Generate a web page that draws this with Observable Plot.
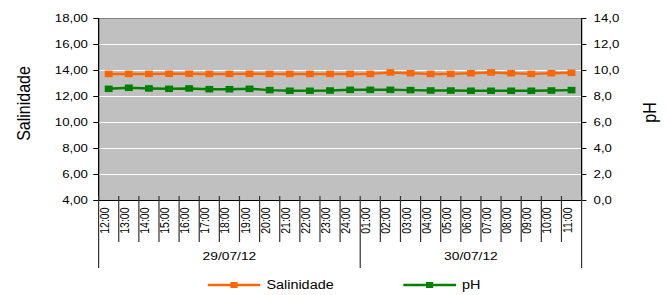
<!DOCTYPE html>
<html><head><meta charset="utf-8">
<script src="https://cdn.jsdelivr.net/npm/d3@7"></script>
<script src="https://cdn.jsdelivr.net/npm/@observablehq/plot@0.6"></script>
<style>
body{margin:0;background:#fff;font-family:"Liberation Sans",Arial,sans-serif;color:#000;}
#wrap{width:556px;transform:scale(1.2,1);transform-origin:0 0;}
#legend{display:flex;align-items:center;height:18px;padding-left:173px;font-size:12px;}
#legend .item{display:flex;align-items:center;}
#legend .item + .item{margin-left:58px;}
#legend .item span{margin-left:5px;}
svg{display:block;}
</style></head><body><div id="wrap"></div>
<script>
const hours = ["12:00","13:00","14:00","15:00","16:00","17:00","18:00","19:00","20:00","21:00","22:00","23:00","24:00",
               "01:00","02:00","03:00","04:00","05:00","06:00","07:00","08:00","09:00","10:00","11:00"];
const days = ["29/07/12","30/07/12"];
const hoursPerDay = [13, 11];
const salinidade = [13.74,13.74,13.74,13.75,13.75,13.74,13.74,13.75,13.74,13.74,13.74,13.74,13.74,
                    13.74,13.85,13.79,13.74,13.74,13.79,13.85,13.79,13.74,13.79,13.82];
const pH = [8.59,8.67,8.62,8.59,8.62,8.56,8.56,8.59,8.49,8.44,8.44,8.46,8.51,
            8.51,8.51,8.49,8.46,8.46,8.44,8.44,8.44,8.44,8.46,8.49];
const seriesNames = ["Salinidade","pH"];
const seriesColors = ["#ff6600","#008000"];
const leftTicks = [4,6,8,10,12,14,16,18];
const rightTicks = [0,2,4,6,8,10,12,14];

const S = 1.2; // horizontal stretch of the original
const W = 667 / S, H = 276;
const mL = 98 / S, mR = 86 / S, mT = 18, mB = 76;
const plotH = H - mT - mB;

// pH axis (0..14) shares the pixel range of the salinity axis (4..18)
const offset = leftTicks[0] - rightTicks[0];
const rows = hours.map((h, i) => ({i, h, s: salinidade[i], p: pH[i] + offset}));

const starts = d3.cumsum([0, ...hoursPerDay]).slice(0, -1);
const dayRows = days.map((d, k) => ({d, c: starts[k] + (hoursPerDay[k] - 1) / 2}));
const groupBounds = d3.cumsum([0, ...hoursPerDay]).map(v => v - 0.5);
const innerBounds = d3.range(1, hours.length).map(v => v - 0.5).filter(v => !groupBounds.includes(v));

const fmtL = d => d.toFixed(2).replace(".", ",");
const fmtR = d => (d - offset).toFixed(1).replace(".", ",");

const chart = Plot.plot({
  width: W, height: H,
  marginLeft: mL, marginRight: mR, marginTop: mT, marginBottom: mB,
  style: {fontFamily: "Liberation Sans, Arial, sans-serif", color: "#000", background: "transparent"},
  x: {type: "linear", domain: [-0.5, hours.length - 0.5], axis: null},
  y: {domain: [leftTicks[0], leftTicks[leftTicks.length - 1]], axis: null},
  marks: [
    Plot.frame({fill: "#c0c0c0", stroke: "#808080"}),
    Plot.ruleY(leftTicks.slice(1, -1), {stroke: "white", strokeWidth: 1}),
    Plot.ruleX([-0.5, hours.length - 0.5], {stroke: "black"}),
    Plot.ruleY([leftTicks[0]], {stroke: "black"}),
    Plot.ruleX(innerBounds, {x: d => d, stroke: "#333", insetTop: plotH - 4, insetBottom: -42}),
    Plot.ruleX(groupBounds, {x: d => d, stroke: "#333", insetTop: plotH - 4, insetBottom: -68}),
    Plot.axisY({anchor: "left", ticks: leftTicks, tickFormat: fmtL, tickSize: 4, tickPadding: 5, fontSize: 11, label: null}),
    Plot.axisY({anchor: "right", ticks: leftTicks, tickFormat: fmtR, tickSize: 3.5, tickPadding: 6.5, fontSize: 11, label: null}),
    Plot.text(hours, {x: (d, i) => i, frameAnchor: "bottom", dy: 7, rotate: -90, textAnchor: "end", fontSize: 10.5, fill: "#000"}),
    Plot.text(dayRows, {x: "c", text: "d", frameAnchor: "bottom", dy: 60, fontSize: 11.5, fill: "#000"}),
    Plot.text([seriesNames[0]], {frameAnchor: "left", textAnchor: "middle", dx: -62.5, dy: -6, rotate: -90, fontSize: 16, fill: "#000"}),
    Plot.text([seriesNames[1]], {frameAnchor: "right", textAnchor: "middle", dx: 57, dy: 3, rotate: -90, fontSize: 16, fill: "#000"}),
    Plot.line(rows, {x: "i", y: "s", stroke: seriesColors[0], strokeWidth: 2.5}),
    Plot.dot(rows, {x: "i", y: "s", symbol: "square", fill: seriesColors[0], r: 3.7}),
    Plot.line(rows, {x: "i", y: "p", stroke: seriesColors[1], strokeWidth: 2.5}),
    Plot.dot(rows, {x: "i", y: "p", symbol: "square", fill: seriesColors[1], r: 3.7})
  ]
});

const wrap = document.getElementById("wrap");
wrap.appendChild(chart);
const legend = document.createElement("div");
legend.id = "legend";
legend.innerHTML = seriesNames.map((n, k) =>
  `<div class="item"><svg width="44" height="10"><line x1="0" y1="5" x2="44" y2="5" stroke="${seriesColors[k]}" stroke-width="2.5"/>` +
  `<rect x="19" y="2" width="6" height="6" fill="${seriesColors[k]}"/></svg><span>${n}</span></div>`).join("");
wrap.appendChild(legend);
</script>
</body></html>
